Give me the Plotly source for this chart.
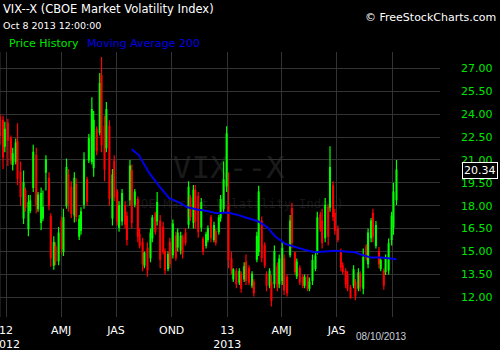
import plotly.graph_objects as go
import pandas as pd

# ---- data (one candle per ~3 trading days) ----
opens = [23.8, 23.6, 21.9, 23.4, 22.4, 20.7, 20.9, 22.2, 20.2, 17.2,
         19.0, 16.5, 17.7, 19.2, 21.3, 17.8, 16.9, 17.2, 20.2, 19.8,
         17.3, 14.1, 15.3, 14.4, 17.0, 15.0, 18.0, 20.0, 19.2, 17.4,
         19.4, 16.0, 16.4, 18.1, 19.7, 21.0, 20.9, 20.5, 23.0, 22.8,
         26.5, 23.2, 21.8, 23.2, 17.2, 20.9, 18.9, 16.6, 17.0, 18.0,
         17.3, 18.4, 20.3, 18.1, 18.4, 16.1, 15.6, 14.1, 15.2, 14.6,
         15.9, 17.4, 17.0, 17.0, 16.6, 15.0, 13.9, 15.6, 14.8, 16.0,
         15.3, 15.1, 15.9, 16.2, 16.8, 18.5, 16.9, 19.0, 18.6, 16.6,
         15.8, 15.4, 15.8, 17.2, 15.8, 16.3, 16.3, 17.2, 17.8, 19.3,
         18.0, 14.5, 13.2, 13.7, 13.0, 13.5, 13.2, 14.3, 13.9, 12.8,
         13.0, 14.5, 15.0, 17.0, 15.4, 13.5, 12.8, 13.0, 12.9, 14.0,
         12.9, 13.1, 14.5, 13.3, 14.8, 17.8, 14.9, 13.4, 13.9, 13.3,
         12.8, 13.3, 12.6, 13.1, 13.9, 15.0, 17.4, 17.0, 15.9, 17.9,
         17.9, 19.3, 17.5, 16.5, 15.0, 14.1, 13.7, 13.4, 12.6, 12.8,
         13.0, 12.6, 13.5, 12.6, 15.3, 14.2, 15.9, 17.5, 15.4, 15.0,
         13.9, 13.7, 13.7, 13.8, 15.8, 16.6, 18.4]
highs = [24.0, 23.9, 23.5, 23.7, 22.6, 21.8, 22.4, 23.4, 20.9, 20.3,
         19.2, 18.7, 18.7, 22.0, 21.8, 18.9, 19.2, 19.0, 21.3, 20.2,
         17.5, 16.0, 15.6, 16.6, 17.3, 17.8, 21.1, 20.4, 19.6, 20.2,
         19.8, 17.4, 17.9, 21.5, 19.9, 22.7, 25.1, 24.2, 23.2, 26.7,
         27.75, 23.9, 24.8, 23.6, 20.4, 21.3, 19.1, 18.3, 19.1, 18.3,
         17.6, 21.0, 20.7, 19.1, 18.6, 16.5, 15.9, 15.0, 15.6, 16.5,
         17.4, 17.6, 18.9, 17.4, 16.95, 15.2, 15.0, 15.9, 17.1, 16.3,
         16.5, 16.3, 16.1, 16.5, 19.6, 18.7, 19.35, 19.35, 18.9, 18.5,
         15.97, 16.3, 16.7, 17.4, 16.95, 16.5, 17.4, 18.7, 20.9, 23.2,
         20.2, 15.0, 13.9, 13.9, 13.9, 13.7, 14.3, 14.8, 14.1, 13.7,
         13.2, 16.3, 19.3, 17.3, 15.6, 13.7, 13.9, 13.5, 15.4, 14.3,
         14.8, 15.6, 14.8, 13.5, 17.4, 18.2, 15.0, 14.55, 14.1, 13.5,
         13.5, 13.5, 13.3, 14.8, 15.0, 17.6, 17.6, 17.8, 18.5, 18.1,
         21.9, 19.6, 17.8, 16.7, 15.2, 14.3, 13.9, 13.7, 12.8, 14.1,
         13.2, 13.9, 13.7, 15.2, 15.5, 16.5, 17.2, 17.8, 17.0, 15.3,
         14.55, 13.9, 14.8, 15.85, 17.6, 19.5, 21.0]
lows = [22.0, 20.4, 21.5, 20.6, 20.7, 20.3, 20.7, 19.35, 18.0, 16.8,
        17.6, 16.0, 17.5, 18.9, 17.5, 17.6, 16.4, 17.0, 19.0, 17.7,
        14.0, 13.8, 14.1, 14.1, 14.8, 14.7, 17.8, 17.6, 17.2, 16.9,
        16.95, 15.75, 16.1, 17.8, 18.0, 20.8, 20.7, 19.9, 21.3, 22.6,
        21.5, 19.6, 21.5, 18.0, 16.7, 18.3, 16.7, 16.3, 16.7, 16.5,
        15.4, 18.0, 16.5, 17.9, 15.6, 15.2, 13.7, 13.9, 13.35, 14.3,
        15.6, 16.1, 16.7, 13.9, 14.8, 13.5, 13.7, 13.9, 14.55, 14.4,
        15.0, 14.8, 14.55, 15.4, 16.5, 17.0, 16.5, 16.5, 15.9, 16.3,
        14.77, 15.2, 15.6, 15.6, 15.6, 15.4, 16.1, 16.95, 17.5, 18.9,
        13.9, 13.5, 13.0, 12.6, 12.8, 12.3, 13.0, 12.8, 12.8, 12.6,
        12.05, 14.3, 14.7, 14.3, 13.9, 12.4, 12.6, 11.4, 12.6, 12.4,
        12.6, 12.8, 12.15, 12.05, 14.6, 15.2, 13.5, 13.2, 12.8, 12.6,
        12.6, 12.4, 12.4, 12.8, 13.7, 14.8, 16.3, 15.2, 15.6, 15.4,
        17.6, 17.0, 16.1, 15.6, 13.7, 13.5, 12.6, 12.4, 11.9, 12.6,
        11.8, 12.4, 12.4, 12.2, 14.4, 13.9, 15.6, 15.6, 15.2, 13.9,
        13.7, 12.5, 13.46, 13.5, 15.4, 16.1, 18.05]
closes = [22.6, 21.2, 23.0, 22.3, 21.0, 21.4, 22.1, 19.8, 18.6, 19.5,
          17.9, 18.2, 18.3, 21.5, 18.0, 18.7, 18.8, 17.9, 21.0, 18.0,
          14.6, 15.6, 14.4, 16.2, 15.2, 17.2, 20.5, 18.1, 17.5, 19.8,
          17.3, 17.1, 17.6, 21.0, 18.3, 22.4, 24.3, 23.6, 21.6, 26.0,
          22.0, 20.4, 24.3, 18.5, 20.0, 18.6, 17.0, 18.0, 18.8, 16.8,
          15.8, 20.6, 16.9, 18.9, 16.0, 15.4, 14.2, 14.9, 13.8, 16.2,
          17.2, 16.3, 18.2, 14.5, 15.0, 13.8, 14.8, 14.2, 16.8, 14.6,
          16.2, 16.0, 14.9, 15.6, 19.2, 17.3, 19.0, 17.0, 16.3, 18.2,
          15.0, 16.1, 16.5, 15.9, 16.7, 15.6, 17.2, 18.4, 19.7, 22.7,
          14.5, 13.8, 13.8, 12.9, 13.7, 12.6, 14.0, 13.1, 13.0, 13.5,
          12.3, 16.0, 18.9, 14.6, 14.1, 12.8, 13.7, 11.8, 15.0, 12.7,
          14.5, 15.2, 12.5, 12.3, 17.0, 15.6, 13.7, 14.3, 13.0, 12.8,
          13.3, 12.6, 13.0, 14.4, 14.7, 17.2, 16.5, 15.6, 18.0, 16.0,
          20.5, 17.3, 16.4, 15.8, 14.0, 13.7, 12.9, 12.6, 12.0, 13.8,
          12.1, 13.6, 12.7, 14.6, 14.6, 16.2, 17.0, 16.0, 16.7, 14.2,
          14.4, 12.8, 14.5, 15.5, 17.3, 18.9, 20.34]
last_date = "2013-10-08"

ma_dates = ["2012-07-27", "2012-08-08", "2012-08-24", "2012-09-10", "2012-09-27",
            "2012-10-14", "2012-10-27", "2012-11-12", "2012-11-29", "2012-12-15",
            "2013-01-01", "2013-01-18", "2013-02-03", "2013-02-20", "2013-03-08",
            "2013-03-21", "2013-04-07", "2013-04-23", "2013-05-10", "2013-05-26",
            "2013-06-12", "2013-06-29", "2013-07-15", "2013-08-01", "2013-08-10",
            "2013-08-27", "2013-09-13", "2013-10-08"]
ma_values = [21.7, 21.3, 20.2, 19.3, 18.5,
             18.2, 17.9, 17.75, 17.65, 17.5,
             17.55, 17.4, 17.2, 17.0, 16.6,
             16.0, 15.5, 15.3, 15.1, 14.95,
             15.0, 15.05, 15.0, 14.95, 14.8,
             14.6, 14.6, 14.5]

y_ticks = [12.0, 13.5, 15.0, 16.5, 18.0, 19.5, 21.0, 22.5, 24.0, 25.5, 27.0]
x_tick_dates = ["2012-01-01", "2012-04-01", "2012-07-01", "2012-10-01",
                "2013-01-01", "2013-04-01", "2013-07-01", "2013-10-01"]
x_tick_text = ["12<br>2012", "AMJ", "JAS", "OND", "13<br>2013", "AMJ", "JAS", ""]

title_text = "VIX--X (CBOE Market Volatility Index)"
stamp_text = "Oct 8 2013 12:00:00"
legend_price = "Price History"
legend_ma = "Moving Average 200"
copyright_text = "© FreeStockCharts.com"
cursor_date = "08/10/2013"

# ---- figure ----
dates = pd.date_range(end=last_date, periods=len(closes), freq="3B")

GREEN = "#00ff00"
RED = "#ff0000"
GRID = "#333333"
FONT = "DejaVu Sans"

fig = go.Figure()
fig.add_trace(go.Candlestick(
    x=dates, open=opens, high=highs, low=lows, close=closes,
    increasing=dict(line=dict(color=GREEN, width=1.2), fillcolor=GREEN),
    decreasing=dict(line=dict(color=RED, width=1.2), fillcolor=RED),
    whiskerwidth=0, showlegend=False, hoverinfo="skip"))
fig.add_trace(go.Scatter(
    x=ma_dates, y=ma_values, mode="lines",
    line=dict(color="#0000e8", width=2), showlegend=False, hoverinfo="skip"))

# faint watermark behind the candles
fig.add_shape(type="rect", xref="paper", yref="paper", x0=0.2, x1=0.84, y0=0.5, y1=0.65,
              line=dict(width=0), fillcolor="rgba(0,0,0,0)", layer="below",
              label=dict(text="VIX--X", font=dict(family="DejaVu Sans Mono", size=31, color="#1a1a1a"),
                         textposition="middle center"))
fig.add_shape(type="rect", xref="paper", yref="paper", x0=0.1, x1=0.95, y0=0.38, y1=0.48,
              line=dict(width=0), fillcolor="rgba(0,0,0,0)", layer="below",
              label=dict(text="(CBOE Market Volatility Index)",
                         font=dict(family="DejaVu Sans Mono", size=12.5, color="#161616"),
                         textposition="middle center"))
# left border line
fig.add_shape(type="line", xref="paper", yref="paper", x0=0, x1=0, y0=0, y1=1,
              line=dict(color=GRID, width=1), layer="below")

ann = [
    dict(text=title_text, x=0, xanchor="left", xshift=1, y=1, yanchor="middle", yshift=43,
         font=dict(family=FONT, size=11.5, color="white")),
    dict(text=stamp_text, x=0, xanchor="left", xshift=1, y=1, yanchor="middle", yshift=27,
         font=dict(family=FONT, size=9.5, color="white")),
    dict(text=legend_price, x=0, xanchor="left", xshift=7, y=1, yanchor="middle", yshift=9,
         font=dict(family=FONT, size=11, color="#00e600")),
    dict(text=legend_ma, x=0, xanchor="left", xshift=85, y=1, yanchor="middle", yshift=9,
         font=dict(family=FONT, size=11, color="#0000e6")),
    dict(text=copyright_text, x=1, xanchor="right", xshift=58, y=1, yanchor="middle", yshift=35,
         font=dict(family=FONT, size=11, color="white")),
    dict(text=cursor_date, x=0, xanchor="center", xshift=381, y=0, yanchor="middle", yshift=-19,
         font=dict(family="Liberation Sans", size=10, color="#c8d0dc")),
]
for a in ann:
    a.update(xref="paper", yref="paper", showarrow=False)
    fig.add_annotation(**a)

fig.add_annotation(text=f"{closes[-1]:.2f}", xref="paper", yref="y", x=1, xanchor="left", xshift=22,
                   y=closes[-1], yanchor="middle", showarrow=False,
                   font=dict(family=FONT, size=11, color="white"),
                   bgcolor="black", bordercolor="white", borderwidth=1, borderpad=1)

fig.update_layout(
    width=500, height=350,
    margin=dict(l=0, r=60, t=52, b=33, pad=0),
    paper_bgcolor="black", plot_bgcolor="black",
    showlegend=False,
    xaxis=dict(type="date", range=["2011-12-22", "2013-12-19"],
               rangeslider=dict(visible=False),
               showgrid=True, gridcolor=GRID, gridwidth=1,
               tickmode="array", tickvals=x_tick_dates, ticktext=x_tick_text,
               tickfont=dict(family=FONT, size=11, color="white"),
               ticks="", showline=False, zeroline=False,
               ticklabelstandoff=5,
               ticklabeloverflow="allow", automargin=False, fixedrange=True),
    yaxis=dict(side="right", range=[10.71, 28.07],
               tickmode="array", tickvals=y_ticks, tickformat=".2f",
               tickfont=dict(family=FONT, size=11, color="#00e600"),
               showgrid=True, gridcolor=GRID, gridwidth=1,
               ticks="", showline=False, zeroline=False,
               ticklabelstandoff=20, automargin=False, fixedrange=True),
)

fig.write_html("out.html")
